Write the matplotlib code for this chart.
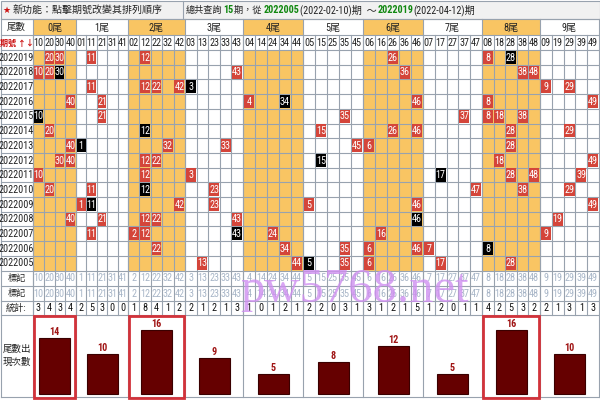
import matplotlib
matplotlib.use('Agg')
import matplotlib.pyplot as plt
from matplotlib.patches import Rectangle
from matplotlib import font_manager as fm
import numpy as np

# ---------------- data ----------------
periods = ['2022019', '2022018', '2022017', '2022016', '2022015', '2022014',
           '2022013', '2022012', '2022011', '2022010', '2022009', '2022008',
           '2022007', '2022006', '2022005']
main_numbers = [
    [20, 30, 11, 12, 26, 8],
    [10, 20, 43, 36, 38, 48],
    [11, 12, 22, 42, 9, 29],
    [40, 21, 4, 46, 8, 49],
    [21, 35, 37, 8, 18, 38],
    [20, 15, 26, 46, 28, 29],
    [40, 32, 33, 45, 6, 28],
    [30, 40, 12, 22, 18, 49],
    [10, 12, 3, 28, 48, 39],
    [20, 11, 23, 47, 38, 29],
    [1, 42, 23, 5, 46, 49],
    [40, 21, 12, 22, 43, 19],
    [11, 2, 12, 24, 16, 9],
    [22, 34, 35, 6, 46, 7],
    [13, 44, 35, 6, 17, 28],
]
special_numbers = [28, 30, 3, 34, 10, 12, 1, 15, 17, 12, 11, 46, 43, 8, 5]
tail_counts = [14, 10, 16, 9, 5, 8, 12, 5, 16, 10]
highlight_tails = [0, 2, 8]
group_labels = ['0尾', '1尾', '2尾', '3尾', '4尾', '5尾', '6尾', '7尾', '8尾', '9尾']
title_left = '新功能：點擊期號改變其排列順序'
query_total = '15'
start_period, start_date = '2022005', '2022-02-10'
end_period, end_date = '2022019', '2022-04-12'

# ---------------- fonts ----------------
avail = {f.name for f in fm.fontManager.ttflist}
narrow = next((n for n in ['Liberation Sans Narrow', 'Roboto Condensed', 'Archivo Narrow',
                           'Asap Condensed', 'Barlow Condensed'] if n in avail), None)
if narrow is None:
    NARROW = ['Liberation Sans', 'Noto Sans CJK TC', 'DejaVu Sans']
    SZ = 6.2
else:
    NARROW = [narrow, 'Noto Sans CJK TC', 'DejaVu Sans']
    SZ = 7.3
CJK = ['Noto Sans CJK TC', 'DejaVu Sans']

# ---------------- layout ----------------
ORANGE = '#F9C563'
RED = '#D4453A'
GRID = '#98A2AE'
MARK = '#A8B6C8'

group_edges = [33, 76, 128, 185, 243, 303, 363, 423, 482, 540, 599]
columns = []
col_left = []
col_right = []
for t in range(10):
    nums = [n for n in range(t, 50, 10) if n > 0]
    e = np.linspace(group_edges[t], group_edges[t + 1], len(nums) + 1)
    for k, n in enumerate(nums):
        columns.append(n)
        col_left.append(e[k])
        col_right.append(e[k + 1])
col_index = {n: i for i, n in enumerate(columns)}
col_center = [(a + b) / 2 for a, b in zip(col_left, col_right)]

Y_GROUP = (19, 35)
Y_NUMH = (35, 50)
row_edges = np.linspace(50, 270.5, len(periods) + 1)
Y_MARK1 = (270.5, 285.7)
Y_MARK2 = (285.7, 300.8)
Y_STAT = (300.8, 315)
Y_BAR = (315, 397)

fig = plt.figure(figsize=(6, 4), dpi=100)
ax = fig.add_axes([0, 0, 1, 1])
ax.set_xlim(0, 600)
ax.set_ylim(400, 0)
ax.axis('off')


def txt(x, y, s, size=None, color='#222222', fam=None, ha='center', weight='normal', **kw):
    return ax.text(x, y, s, fontsize=SZ if size is None else size, color=color,
                   family=NARROW if fam is None else fam, ha=ha, va='center',
                   fontweight=weight, **kw)


# title row
ax.add_patch(Rectangle((0.5, 0.5), 599, 18.5, facecolor='#F1F1F1', edgecolor=GRID, lw=0.8))
ax.plot([183, 183], [0.5, 19], color=GRID, lw=0.8)
txt(6, 10, '★', size=6.5, color='#CC1111', fam=['DejaVu Sans'])
txt(13, 10, title_left, size=7.2, fam=CJK, ha='left')
segs = [('總共查詢', '#222222', 'normal', CJK),
        (query_total, '#118811', 'bold', None),
        ('期，從 ', '#222222', 'normal', CJK),
        (start_period, '#118811', 'bold', None),
        ('(' + start_date + ')期  ～', '#222222', 'normal', None),
        (end_period, '#118811', 'bold', None),
        ('(' + end_date + ')期', '#222222', 'normal', None)]
renderer = fig.canvas.get_renderer()
xcur = 186
inv = ax.transData.inverted()
for s, c, w, fam in segs:
    size = 6.6 if fam is CJK else SZ
    t = txt(xcur, 10, s, size=size, color=c, ha='left', weight=w, fam=fam)
    bb = t.get_window_extent(renderer=renderer)
    xcur = inv.transform((bb.x1, 0))[0] + 0.5

# group header
for t in range(10):
    if t % 2 == 0:
        ax.add_patch(Rectangle((group_edges[t], Y_GROUP[0]), group_edges[t + 1] - group_edges[t],
                               Y_GROUP[1] - Y_GROUP[0], facecolor=ORANGE, edgecolor='none'))
    txt((group_edges[t] + group_edges[t + 1]) / 2, 27.5, group_labels[t])
txt(16.5, 27.5, '尾數', size=6.8, fam=CJK)
txt(16.5, 43, '期號 ↑↓', size=5.8, color='#CC1111', weight='bold',
    fam=['Noto Sans CJK TC', 'DejaVu Sans'])

# column header numbers
for i, n in enumerate(columns):
    txt(col_center[i], 43, f'{n:02d}')

# data rows
for r, p in enumerate(periods):
    y0, y1 = row_edges[r], row_edges[r + 1]
    txt(16.5, (y0 + y1) / 2 + 0.3, p)
    for i, n in enumerate(columns):
        if (n % 10) % 2 == 0:
            ax.add_patch(Rectangle((col_left[i], y0), col_right[i] - col_left[i], y1 - y0,
                                   facecolor=ORANGE, edgecolor='none'))
    for n in main_numbers[r] + [special_numbers[r]]:
        i = col_index[n]
        fc = '#000000' if n == special_numbers[r] else RED
        ax.add_patch(Rectangle((col_left[i] + 0.8, y0 + 0.8), col_right[i] - col_left[i] - 1.6,
                               y1 - y0 - 1.6, facecolor=fc, edgecolor='none', zorder=2))
        txt(col_center[i], (y0 + y1) / 2 + 0.3, str(n), color='white', zorder=3)

# mark rows and stats
counts = {n: 0 for n in columns}
for r in range(len(periods)):
    for n in main_numbers[r] + [special_numbers[r]]:
        counts[n] += 1
for yy in (Y_MARK1, Y_MARK2):
    txt(16.5, sum(yy) / 2, '標記', size=6.6, fam=CJK)
    for i, n in enumerate(columns):
        txt(col_center[i], sum(yy) / 2 + 0.3, str(n), color=MARK)
txt(16.5, sum(Y_STAT) / 2, '統計:', size=6.6, fam=CJK)
for i, n in enumerate(columns):
    txt(col_center[i], sum(Y_STAT) / 2 + 0.3, str(counts[n]), color='#111111')

# grid lines
hlines = [Y_GROUP[0], Y_NUMH[0]] + list(row_edges) + [Y_MARK1[1], Y_MARK2[1], Y_STAT[1], Y_BAR[1]]
for y in hlines:
    ax.plot([0.5, 599.5], [y, y], color=GRID, lw=0.8, zorder=1.5)
for i in range(len(columns)):
    ax.plot([col_left[i], col_left[i]], [Y_NUMH[0], Y_STAT[1]], color=GRID, lw=0.8, zorder=1.5)
for x in group_edges:
    ax.plot([x, x], [Y_GROUP[0], Y_BAR[1]], color=GRID, lw=0.8, zorder=1.5)
ax.plot([0.5, 0.5], [Y_GROUP[0], Y_BAR[1]], color=GRID, lw=0.8)
ax.plot([599.5, 599.5], [Y_GROUP[0], Y_BAR[1]], color=GRID, lw=0.8)

txt(16.5, 349, '尾數出', size=6.8, fam=CJK)
txt(16.5, 362, '現次數', size=6.8, fam=CJK)

# bars
bax = fig.add_axes([0, 3 / 400, 1, 82 / 400])
bax.set_xlim(0, 600)
bax.set_ylim(-0.75, 19.75)
bax.axis('off')
bax.patch.set_alpha(0)
centers = [(group_edges[t] + group_edges[t + 1]) / 2 for t in range(10)]
bax.bar(centers, tail_counts, width=31, color='#650000', edgecolor='#3A0000', linewidth=0.8)
for c, v in zip(centers, tail_counts):
    bax.text(c, v + 0.35, str(v), ha='center', va='bottom', fontsize=SZ,
             color='#A01515', fontweight='bold', family=NARROW)

for t in highlight_tails:
    ax.add_patch(Rectangle((group_edges[t] + 1, Y_BAR[0] + 1), group_edges[t + 1] - group_edges[t] - 2,
                           Y_BAR[1] - Y_BAR[0], facecolor='none', edgecolor='#D2323A', lw=2.0, zorder=5))

# watermark
ax.text(240, 302, 'pw5768.net', fontsize=35, color='#CF8FF0', alpha=0.8,
        family=['Liberation Serif', 'DejaVu Serif'], ha='left', va='baseline', zorder=6)

fig.savefig('out.png', dpi=100)
